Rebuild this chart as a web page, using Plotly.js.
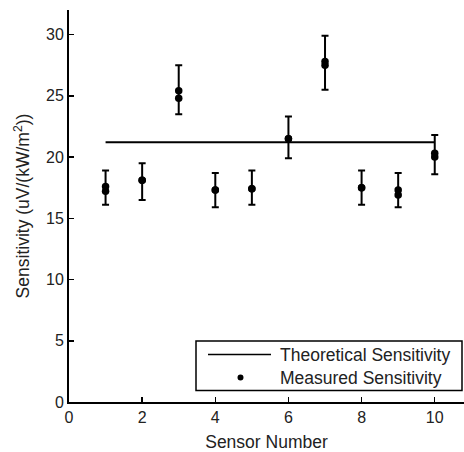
<!DOCTYPE html>
<html>
<head>
<meta charset="utf-8">
<script src="https://cdn.plot.ly/plotly-3.0.1.min.js"></script>
<style>html,body{margin:0;padding:0;background:#fff;}#chart{width:464px;height:452px;}</style>
</head>
<body>
<div id="chart"></div>
<script>
// Data
var sensors = [1, 2, 3, 4, 5, 6, 7, 8, 9, 10];
var measuredA = [17.6, 18.1, 25.4, 17.3, 17.4, 21.5, 27.8, 17.5, 17.3, 20.3];
var measuredB = [17.2, 18.1, 24.8, 17.3, 17.4, 21.5, 27.5, 17.5, 16.9, 20.0];
var errorHigh = [18.9, 19.5, 27.5, 18.7, 18.9, 23.3, 29.9, 18.9, 18.7, 21.8];
var errorLow = [16.1, 16.5, 23.5, 15.9, 16.1, 19.9, 25.5, 16.1, 15.9, 18.6];
var theoreticalX = [1, 10];
var theoreticalY = [21.2, 21.2];
var xTicks = [0, 2, 4, 6, 8, 10];
var yTicks = [0, 5, 10, 15, 20, 25, 30];

var errPlus = measuredA.map(function (v, i) { return errorHigh[i] - v; });
var errMinus = measuredA.map(function (v, i) { return v - errorLow[i]; });

var font = "Liberation Sans, Arial, sans-serif";

var traces = [
  {
    x: theoreticalX, y: theoreticalY, mode: 'lines', type: 'scatter',
    line: {color: '#000', width: 2}, showlegend: false, hoverinfo: 'skip'
  },
  {
    x: sensors, y: measuredA, mode: 'markers', type: 'scatter',
    marker: {color: '#000', size: 7.5},
    error_y: {type: 'data', symmetric: false, array: errPlus, arrayminus: errMinus,
              color: '#000', thickness: 2, width: 3.5},
    showlegend: false
  },
  {
    x: sensors, y: measuredB, mode: 'markers', type: 'scatter',
    marker: {color: '#000', size: 7.5}, showlegend: false
  }
];

// legend box drawn in paper coordinates
var px = function (p) { return (p - 69) / 395; };
var py = function (p) { return (402 - p) / 392; };

var layout = {
  width: 464, height: 452,
  margin: {l: 69, r: 0, t: 10, b: 50},
  paper_bgcolor: '#fff', plot_bgcolor: '#fff',
  font: {family: font, color: '#000', size: 16},
  showlegend: false,
  xaxis: {
    range: [0, 10.8], tickvals: xTicks, ticktext: xTicks.map(String),
    showline: true, linecolor: '#000', linewidth: 2,
    ticks: 'inside', ticklen: 5, tickwidth: 1.5, tickcolor: '#000',
    showgrid: false, zeroline: false,
    tickfont: {size: 16, family: font, color: '#222'},
    title: {text: 'Sensor Number', font: {size: 17.5, family: font, color: '#222'}, standoff: 13}
  },
  yaxis: {
    range: [0, 32], tickvals: yTicks, ticktext: yTicks.map(String),
    showline: true, linecolor: '#000', linewidth: 2,
    ticks: 'inside', ticklen: 5, tickwidth: 1.5, tickcolor: '#000',
    showgrid: false, zeroline: false,
    tickfont: {size: 16, family: font, color: '#222'},
    title: {text: 'Sensitivity (uV/(kW/m<sup>2</sup>))', font: {size: 17.5, family: font, color: '#222'}, standoff: 12}
  },
  shapes: [
    {type: 'rect', xref: 'paper', yref: 'paper', x0: px(196), x1: px(462), y0: py(390.5), y1: py(341),
     line: {color: '#000', width: 1.5}, fillcolor: '#fff'},
    {type: 'line', xref: 'paper', yref: 'paper', x0: px(208), x1: px(271), y0: py(354.5), y1: py(354.5),
     line: {color: '#000', width: 1.5}},
    {type: 'circle', xref: 'paper', yref: 'paper', x0: px(237.5), x1: px(243.5), y0: py(380.5), y1: py(374.5),
     line: {color: '#000', width: 0}, fillcolor: '#000'}
  ],
  annotations: [
    {xref: 'paper', yref: 'paper', x: px(278), y: py(354.5), xanchor: 'left', yanchor: 'middle',
     text: 'Theoretical Sensitivity', showarrow: false, font: {size: 17.5, family: font, color: '#222'}},
    {xref: 'paper', yref: 'paper', x: px(278), y: py(377.5), xanchor: 'left', yanchor: 'middle',
     text: 'Measured Sensitivity', showarrow: false, font: {size: 17.5, family: font, color: '#222'}}
  ]
};

Plotly.newPlot('chart', traces, layout, {displayModeBar: false, staticPlot: true});
</script>
</body>
</html>
